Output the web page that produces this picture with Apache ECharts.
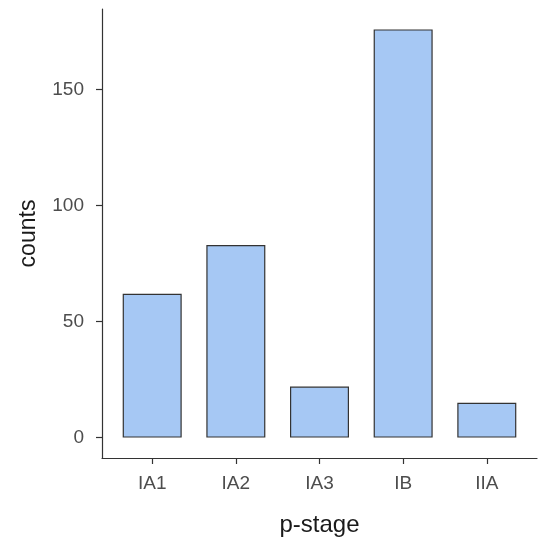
<!DOCTYPE html>
<html>
<head>
<meta charset="utf-8">
<script src="https://cdn.jsdelivr.net/npm/echarts@6/dist/echarts.min.js"></script>
<style>
  html, body { margin: 0; padding: 0; background: #fff; }
  #chart { width: 550px; height: 542px; }
</style>
</head>
<body>
<div id="chart"></div>
<script>
  // 数据
  var categories = ['IA1', 'IA2', 'IA3', 'IB', 'IIA'];
  var counts = [62, 83, 22, 176, 15];
  var yTicks = [0, 50, 100, 150];

  var positions = categories.map(function (c, i) { return i + 1; });
  var barData = counts.map(function (v, i) { return [positions[i], v]; });

  var myChart = echarts.init(document.getElementById('chart'));

  var option = {
    animation: false,
    grid: { left: 102, right: 13, top: 9, bottom: 82 },
    xAxis: {
      type: 'value',
      min: 0.4,
      max: 5.6,
      name: 'p-stage',
      nameLocation: 'middle',
      nameGap: 55,
      nameTextStyle: { fontFamily: 'Liberation Sans', fontSize: 24, color: '#1a1a1a' },
      axisLine: { onZero: false, lineStyle: { color: '#333', width: 1.2 } },
      axisTick: { customValues: positions, length: 6, lineStyle: { color: '#333', width: 1.2 } },
      axisLabel: {
        customValues: positions,
        margin: 16,
        fontFamily: 'Liberation Sans', fontSize: 19, color: '#4d4d4d',
        formatter: function (v) { return categories[Math.round(v) - 1] || ''; }
      },
      splitLine: { show: false }
    },
    yAxis: {
      type: 'value',
      min: -8.8,
      max: 184.8,
      name: 'counts',
      nameLocation: 'middle',
      nameGap: 62,
      nameTextStyle: { fontFamily: 'Liberation Sans', fontSize: 23, color: '#1a1a1a' },
      axisLine: { show: true, onZero: false, lineStyle: { color: '#333', width: 1.2 } },
      axisTick: { show: true, customValues: yTicks, length: 6, lineStyle: { color: '#333', width: 1.2 } },
      axisLabel: {
        customValues: yTicks,
        margin: 18,
        fontFamily: 'Liberation Sans', fontSize: 19, color: '#4d4d4d'
      },
      splitLine: { show: false }
    },
    series: [{
      type: 'bar',
      data: barData,
      barWidth: 59,
      itemStyle: { color: '#a6c8f4', borderColor: '#333', borderWidth: 1.2 }
    }]
  };

  myChart.setOption(option);
</script>
</body>
</html>
